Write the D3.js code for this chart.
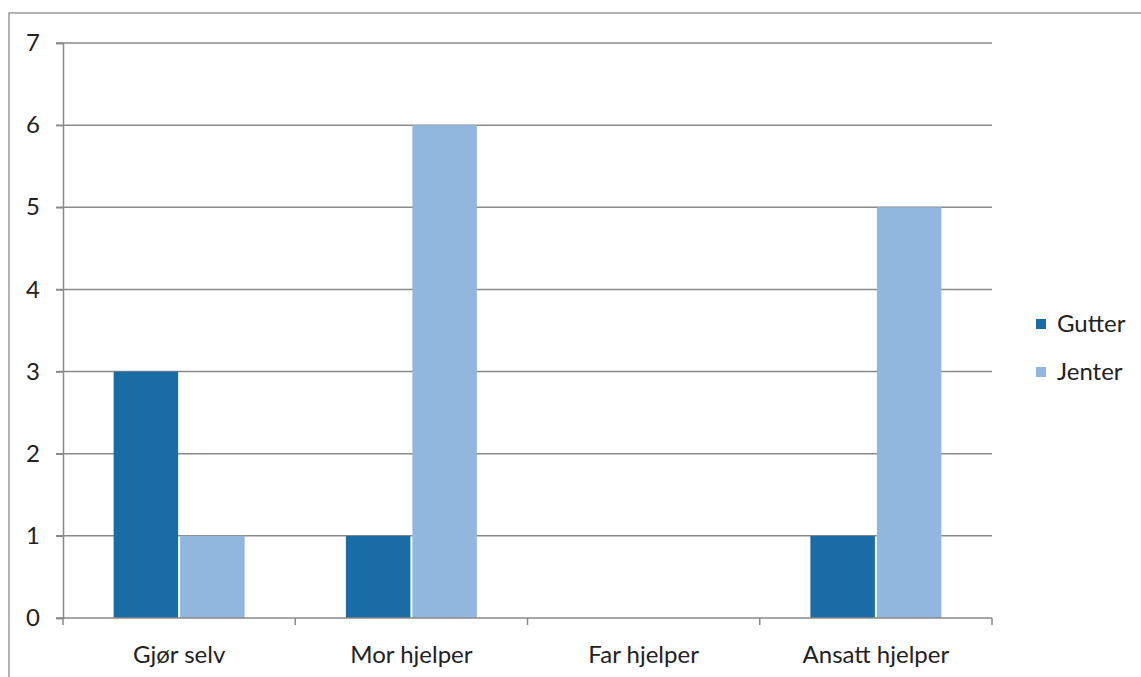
<!DOCTYPE html>
<html>
<head>
<meta charset="utf-8">
<script src="https://cdn.jsdelivr.net/npm/d3@7"></script>
<style>
  body { margin: 0; background: #fff; }
  svg { display: block; }
  text { font-family: Lato, "Open Sans", sans-serif; fill: #222; }
</style>
</head>
<body>
<svg id="chart" width="1141" height="677"></svg>
<script>
// Data
var categories = ["Gjør selv", "Mor hjelper", "Far hjelper", "Ansatt hjelper"];
var seriesNames = ["Gutter", "Jenter"];
var gutter = [3, 1, 0, 1];
var jenter = [1, 6, 0, 5];
var yTicks = [0, 1, 2, 3, 4, 5, 6, 7];

var colors = { "Gutter": "#1a6ca5", "Jenter": "#92b7de" };

var svg = d3.select("#chart");
var plotLeft = 63, plotRight = 992, plotTop = 43, plotBottom = 618;

// outer frame (only top and left edges show in the scan)
svg.append("path")
  .attr("d", "M9,677 V13 H1141")
  .attr("fill", "none")
  .attr("stroke", "#9a9a9a")
  .attr("stroke-width", 1.5);

var y = d3.scaleLinear().domain([0, 7]).range([plotBottom, plotTop]);

var x0 = d3.scaleBand()
  .domain(categories)
  .range([plotLeft, plotRight])
  .paddingInner(0.436)
  .paddingOuter(0.218);

var x1 = d3.scaleBand()
  .domain(seriesNames)
  .range([0, x0.bandwidth()])
  .paddingInner(0.03);

// gridlines
svg.append("g")
  .selectAll("line")
  .data(yTicks.filter(function(d){ return d > 0; }))
  .enter().append("line")
    .attr("x1", plotLeft - 7)
    .attr("x2", plotRight)
    .attr("y1", function(d){ return y(d); })
    .attr("y2", function(d){ return y(d); })
    .attr("stroke", "#8a8a8a")
    .attr("stroke-width", 1.5);

// bars
var rows = categories.map(function(c, i){
  return { cat: c, values: [ { key: "Gutter", v: gutter[i] }, { key: "Jenter", v: jenter[i] } ] };
});

svg.append("g")
  .selectAll("g")
  .data(rows)
  .enter().append("g")
    .attr("transform", function(d){ return "translate(" + x0(d.cat) + ",0)"; })
  .selectAll("rect")
  .data(function(d){ return d.values; })
  .enter().append("rect")
    .attr("x", function(d){ return x1(d.key); })
    .attr("width", x1.bandwidth())
    .attr("y", function(d){ return y(d.v); })
    .attr("height", function(d){ return y(0) - y(d.v); })
    .attr("fill", function(d){ return colors[d.key]; });

// y axis
var yAxis = svg.append("g")
  .attr("transform", "translate(" + plotLeft + ",0)")
  .call(d3.axisLeft(y).tickValues(yTicks).tickSize(7).tickPadding(16).tickFormat(d3.format("d")));
yAxis.selectAll("path, line").attr("stroke", "#8a8a8a").attr("stroke-width", 1.5);
yAxis.selectAll("text").style("font-size", "24px").attr("fill", "#222");

// x axis
var xAxis = svg.append("g")
  .attr("transform", "translate(0," + plotBottom + ")");
xAxis.append("line")
  .attr("x1", plotLeft - 7).attr("x2", plotRight)
  .attr("stroke", "#8a8a8a").attr("stroke-width", 1.5);

var step = x0.step();
var boundaries = d3.range(categories.length + 1).map(function(i){ return plotLeft + i * step; });
xAxis.selectAll("line.tick")
  .data(boundaries)
  .enter().append("line")
    .attr("class", "tick")
    .attr("x1", function(d){ return d; })
    .attr("x2", function(d){ return d; })
    .attr("y1", 0).attr("y2", 7)
    .attr("stroke", "#8a8a8a").attr("stroke-width", 1.5);

xAxis.selectAll("text")
  .data(categories)
  .enter().append("text")
    .attr("x", function(d){ return x0(d) + x0.bandwidth() / 2; })
    .attr("y", 45)
    .attr("text-anchor", "middle")
    .style("font-size", "24px")
    .text(function(d){ return d; });

// legend
var legend = svg.append("g")
  .attr("transform", "translate(1036,314)");
var item = legend.selectAll("g")
  .data(seriesNames)
  .enter().append("g")
    .attr("transform", function(d, i){ return "translate(0," + (i * 48) + ")"; });
item.append("rect")
  .attr("y", 5).attr("width", 10).attr("height", 10)
  .attr("fill", function(d){ return colors[d]; });
item.append("text")
  .attr("x", 21).attr("y", 18)
  .style("font-size", "24px")
  .text(function(d){ return d; });
</script>
</body>
</html>
